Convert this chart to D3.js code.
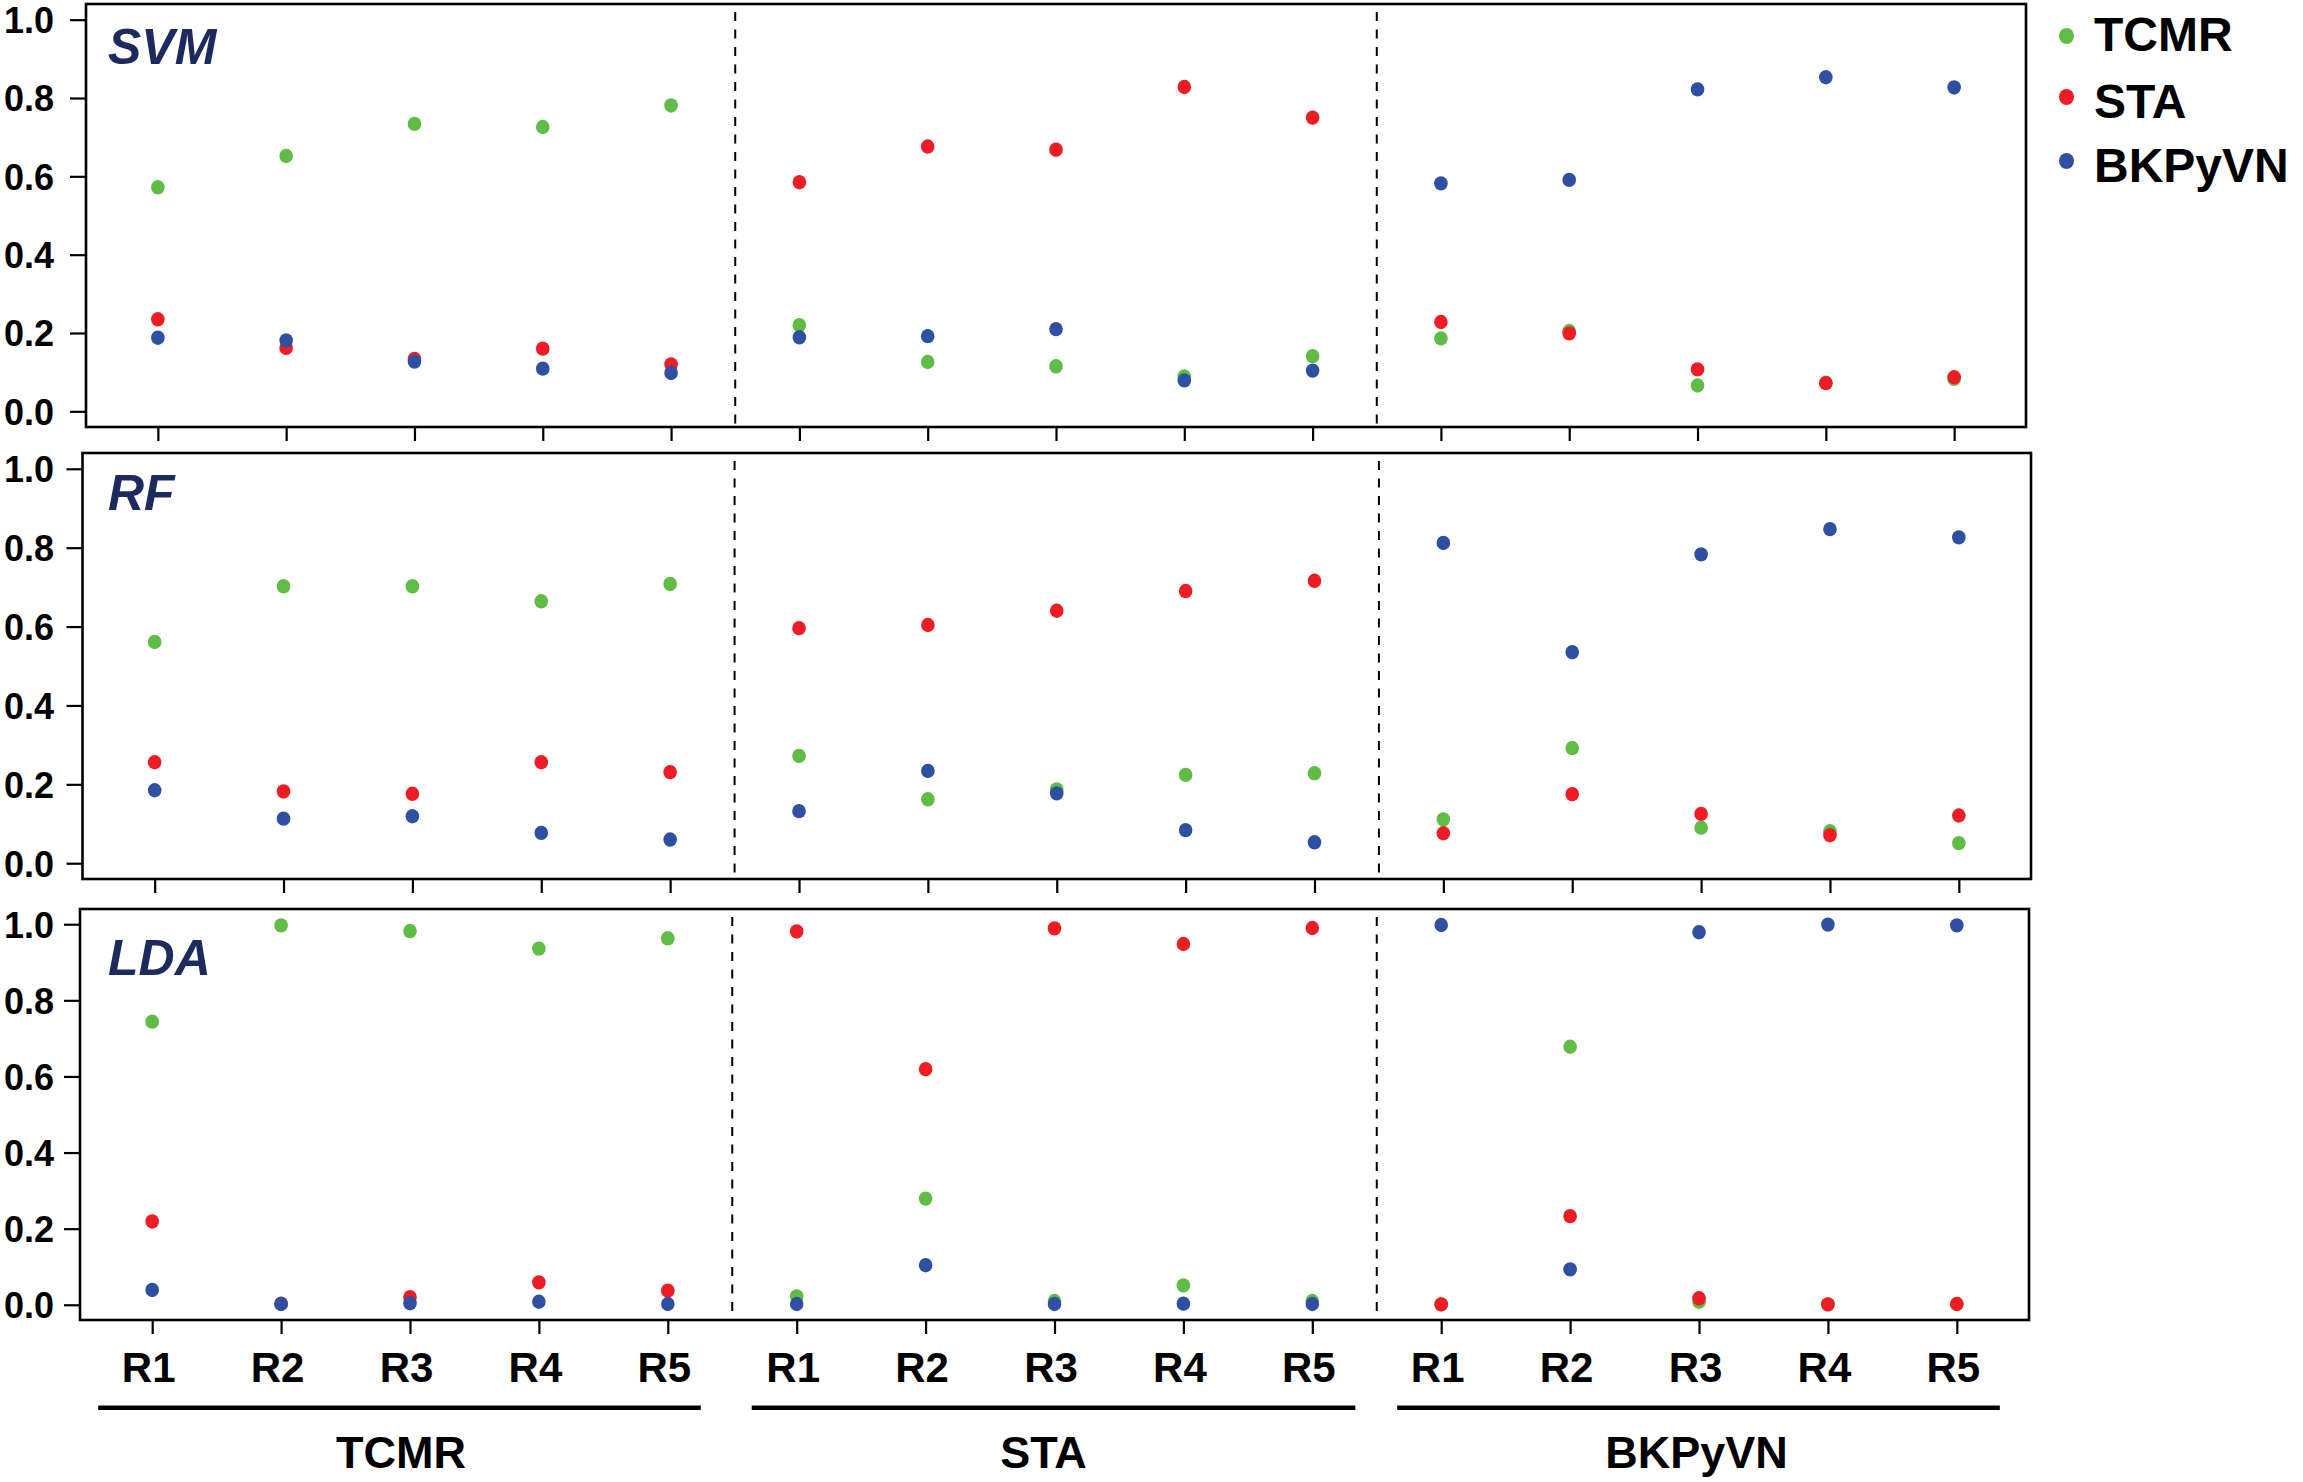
<!DOCTYPE html>
<html>
<head>
<meta charset="utf-8">
<script src="https://cdn.jsdelivr.net/npm/d3@7"></script>
<style>
  html, body { margin: 0; padding: 0; background: #fff; }
  svg { display: block; }
  text { font-family: "Liberation Sans", Arial, Helvetica, sans-serif; font-weight: bold; }
</style>
</head>
<body>
<svg id="chart" width="2303" height="1482"></svg>
<script>
// ---------------- DATA ----------------
const groups = ["TCMR", "STA", "BKPyVN"];
const reps = ["R1", "R2", "R3", "R4", "R5"];
const models = ["SVM", "RF", "LDA"];
const seriesNames = ["TCMR", "STA", "BKPyVN"];
const yTickValues = [0.0, 0.2, 0.4, 0.6, 0.8, 1.0];

// SVM predicted probabilities (15 samples: TCMR R1-R5, STA R1-R5, BKPyVN R1-R5)
const svmTCMR = [0.572, 0.652, 0.734, 0.726, 0.781, 0.220, 0.126, 0.115, 0.089, 0.141, 0.186, 0.205, 0.066, 0.073, 0.083];
const svmSTA  = [0.235, 0.162, 0.134, 0.160, 0.120, 0.585, 0.676, 0.668, 0.828, 0.750, 0.228, 0.199, 0.107, 0.072, 0.087];
const svmBK   = [0.188, 0.181, 0.127, 0.109, 0.098, 0.189, 0.192, 0.210, 0.079, 0.104, 0.582, 0.591, 0.822, 0.853, 0.827];

// RF
const rfTCMR = [0.561, 0.702, 0.702, 0.664, 0.708, 0.272, 0.162, 0.187, 0.224, 0.228, 0.111, 0.292, 0.090, 0.081, 0.051];
const rfSTA  = [0.256, 0.182, 0.176, 0.256, 0.231, 0.596, 0.604, 0.640, 0.690, 0.716, 0.076, 0.175, 0.125, 0.071, 0.121];
const rfBK   = [0.185, 0.113, 0.119, 0.077, 0.060, 0.132, 0.234, 0.177, 0.084, 0.053, 0.812, 0.535, 0.783, 0.847, 0.826];

// LDA
const ldaTCMR = [0.744, 0.997, 0.982, 0.936, 0.963, 0.022, 0.279, 0.010, 0.051, 0.010, 0.001, 0.678, 0.008, 0.001, 0.002];
const ldaSTA  = [0.219, 0.003, 0.020, 0.059, 0.037, 0.981, 0.619, 0.989, 0.948, 0.990, 0.001, 0.233, 0.017, 0.001, 0.002];
const ldaBK   = [0.039, 0.002, 0.004, 0.008, 0.002, 0.002, 0.104, 0.002, 0.003, 0.002, 0.998, 0.093, 0.979, 0.999, 0.997];

const modelSeries = {
  SVM: [svmTCMR, svmSTA, svmBK],
  RF:  [rfTCMR, rfSTA, rfBK],
  LDA: [ldaTCMR, ldaSTA, ldaBK]
};

// ---------------- STYLE / LAYOUT ----------------
const colors = ["#5fbc45", "#ee1c24", "#2f4fa3"];
const labelColor = "#1d2a5e";
const panelLayout = [
  { left: 86,   right: 2026, top: 4,   bottom: 427,  labelY: 63.5 },
  { left: 82.5, right: 2031, top: 453, bottom: 879,  labelY: 509.5 },
  { left: 80,   right: 2029, top: 909, bottom: 1320, labelY: 975 }
];
const yDomain = [-0.04, 1.04];
const tickLabelRight = 54;
const groupLineExt = [[54, 33], [45, 43], [44, 43]];
const groupLabelDx = [1.5, -10, -2];
const legendDotY = [36, 97, 161];
const legendTextY = [50.5, 118, 181.5];

const categories = groups.flatMap(g => reps.map(r => g + "|" + r));
const svg = d3.select("#chart");

models.forEach((m, pi) => {
  const L = panelLayout[pi];
  const x = d3.scalePoint().domain(categories).range([L.left, L.right]).padding(0.56);
  const y = d3.scaleLinear().domain(yDomain).range([L.bottom, L.top]);
  const g = svg.append("g");

  // dashed group separators
  [4, 9].forEach(i => {
    const xm = (x(categories[i]) + x(categories[i + 1])) / 2;
    g.append("line")
      .attr("x1", xm).attr("x2", xm)
      .attr("y1", L.top + 8).attr("y2", L.bottom)
      .attr("stroke", "#000").attr("stroke-width", 2)
      .attr("stroke-dasharray", "9,8.5");
  });

  // y axis
  const yAxis = g.append("g")
    .attr("transform", `translate(${L.left},0)`)
    .call(d3.axisLeft(y).tickValues(yTickValues).tickSize(16).tickFormat(d3.format(".1f")));
  yAxis.select(".domain").remove();
  yAxis.selectAll(".tick line").attr("stroke", "#000").attr("stroke-width", 2.2);
  yAxis.selectAll(".tick text")
    .attr("x", tickLabelRight - L.left)
    .attr("dy", "0.36em")
    .attr("fill", "#000")
    .style("font-size", "36px")
    .style("font-family", "'Liberation Sans', Arial, sans-serif")
    .style("font-weight", "bold");

  // x axis
  const isLast = pi === models.length - 1;
  const xAxis = g.append("g")
    .attr("transform", `translate(0,${L.bottom})`)
    .call(d3.axisBottom(x).tickSize(14).tickPadding(18)
      .tickFormat(d => isLast ? d.split("|")[1] : ""));
  xAxis.select(".domain").remove();
  xAxis.selectAll(".tick line").attr("stroke", "#000").attr("stroke-width", 2.2);
  xAxis.selectAll(".tick text")
    .attr("dx", -4)
    .attr("fill", "#000")
    .style("font-size", "42px")
    .style("font-family", "'Liberation Sans', Arial, sans-serif")
    .style("font-weight", "bold");

  // points: green, red, then blue on top
  modelSeries[m].forEach((vals, si) => {
    g.append("g").selectAll("ellipse")
      .data(vals)
      .join("ellipse")
      .attr("cx", (d, i) => x(categories[i]))
      .attr("cy", d => y(d))
      .attr("rx", 6.8)
      .attr("ry", 7.2)
      .attr("fill", colors[si]);
  });

  // frame
  g.append("rect")
    .attr("x", L.left).attr("y", L.top)
    .attr("width", L.right - L.left).attr("height", L.bottom - L.top)
    .attr("fill", "none").attr("stroke", "#000").attr("stroke-width", 2.6);

  // model label
  g.append("text")
    .attr("x", 108).attr("y", L.labelY)
    .attr("fill", labelColor)
    .style("font-size", "50px")
    .style("font-style", "italic")
    .text(m);

  // group underlines and labels below the last panel
  if (isLast) {
    groups.forEach((grp, gi) => {
      const x0 = x(categories[gi * 5]) - groupLineExt[gi][0];
      const x1 = x(categories[gi * 5 + 4]) + groupLineExt[gi][1];
      svg.append("line")
        .attr("x1", x0).attr("x2", x1)
        .attr("y1", 1407.7).attr("y2", 1407.7)
        .attr("stroke", "#000").attr("stroke-width", 4.5);
      svg.append("text")
        .attr("x", (x0 + x1) / 2 + groupLabelDx[gi])
        .attr("y", 1468)
        .attr("text-anchor", "middle")
        .attr("fill", "#000")
        .style("font-size", "45px")
        .text(grp);
    });
  }
});

// legend
seriesNames.forEach((s, i) => {
  svg.append("ellipse")
    .attr("cx", 2066.5).attr("cy", legendDotY[i]).attr("rx", 7.5).attr("ry", 8)
    .attr("fill", colors[i]);
  svg.append("text")
    .attr("x", 2094).attr("y", legendTextY[i])
    .attr("fill", "#000")
    .style("font-size", "48px")
    .text(s);
});
</script>
</body>
</html>
